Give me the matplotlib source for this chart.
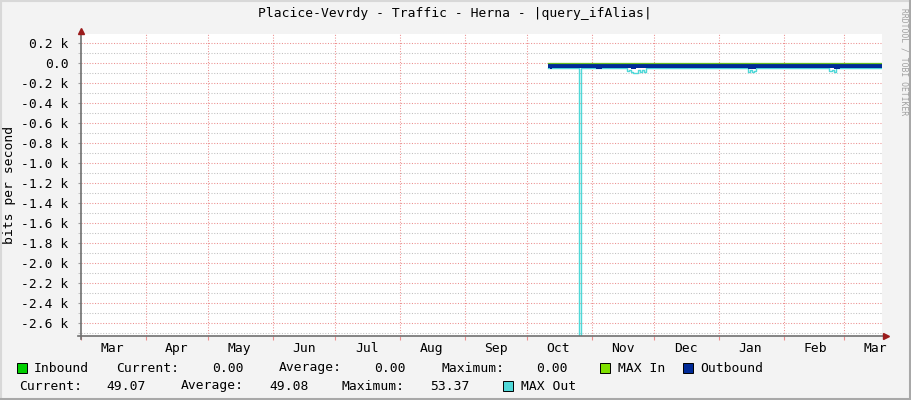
import numpy as np
import pandas as pd
import matplotlib
matplotlib.use("Agg")
import matplotlib.pyplot as plt
import matplotlib.dates as mdates
from matplotlib.patches import Rectangle
from matplotlib.lines import Line2D

plt.rcParams['font.family'] = ['DejaVu Sans Mono']

# Data (bits per second); outbound is drawn below zero
title = "Placice-Vevrdy - Traffic - Herna - |query_ifAlias|"
in_dates = ["2023-10-11", "2024-03-19"]
in_vals = [0, 0]

out_dates = ["2023-10-11", "2023-10-12", "2023-10-13", "2023-11-03", "2023-11-06",
             "2023-11-14", "2023-11-15", "2023-11-20", "2023-11-22", "2023-12-12",
             "2023-12-13", "2023-12-22", "2023-12-24", "2024-01-15", "2024-01-19",
             "2024-01-29", "2024-01-30", "2024-02-09", "2024-02-10", "2024-02-18",
             "2024-02-19", "2024-02-20", "2024-02-21", "2024-02-25", "2024-02-28",
             "2024-03-17", "2024-03-18", "2024-03-19"]
out_vals = [49, 56, 49, 55, 49,
            54, 49, 55, 49, 53,
            49, 54, 49, 56, 49,
            53, 49, 54, 49, 54,
            49, 54, 49, 55, 49,
            53, 49, 49]

maxout_dates = ["2023-10-11", "2023-10-26", "2023-10-27", "2023-11-18", "2023-11-19",
                "2023-11-20", "2023-11-21", "2023-11-23", "2023-11-24", "2023-11-25",
                "2023-11-26", "2023-11-27", "2024-01-15", "2024-01-16", "2024-01-17",
                "2024-01-18", "2024-01-19", "2024-02-23", "2024-02-24", "2024-02-25",
                "2024-02-26", "2024-03-19"]
maxout_vals = [53, 2900, 53, 75, 68,
               90, 100, 72, 88, 70,
               85, 53, 85, 70, 88,
               75, 53, 82, 68, 85,
               53, 53]

legend_row1 = ["Inbound", "Current:", "0.00", "Average:", "0.00", "Maximum:", "0.00"]
legend_row2 = ["Current:", "49.07", "Average:", "49.08", "Maximum:", "53.37"]

c_in = "#00CF00"
c_maxin = "#7FE000"
c_out = "#002A97"
c_maxout = "#50D8D8"
c_major = "#EC8E8E"
c_minor = "#C0C0C0"
c_bg = "#F3F3F3"

W, H = 911, 400
fig = plt.figure(figsize=(W / 100, H / 100), dpi=100, facecolor=c_bg)


def fx(x):
    return x / W


def fy(y):
    return 1 - y / H


L, R, T, B = 81, 882, 34, 336
ax = fig.add_axes([fx(L), fy(B), fx(R - L), (B - T) / H])
ax.set_facecolor("white")

in_d = pd.to_datetime(in_dates)
out_d = pd.to_datetime(out_dates)
mo_d = pd.to_datetime(maxout_dates)

ax.step(mo_d, -np.array(maxout_vals), where="post", color=c_maxout, lw=1.0, zorder=2)
ax.fill_between(out_d, 0, -np.array(out_vals), step="post", color=c_out, lw=0, zorder=3)
ax.step(in_d, in_vals, where="post", color=c_in, lw=0.8, zorder=4)
ax.step(in_d, in_vals, where="post", color="#6CC020", lw=0.8, zorder=5)

ax.set_xlim(pd.Timestamp("2023-03-01"), pd.Timestamp("2024-03-19 05:00"))
ax.set_ylim(-2730, 290)

# y axis
ax.set_yticks(np.arange(-2600, 201, 200))
ax.set_yticks(np.arange(-2700, 291, 100), minor=True)
ax.set_yticklabels(["0.0" if v == 0 else f"{v / 1000:.1f} k" for v in np.arange(-2600, 201, 200)])

# x axis
ax.xaxis.set_major_locator(mdates.MonthLocator())
ax.xaxis.set_major_formatter(plt.NullFormatter())
ax.xaxis.set_minor_locator(mdates.MonthLocator(bymonthday=16))
ax.xaxis.set_minor_formatter(mdates.DateFormatter("%b"))

ax.grid(False)
for v in np.arange(-2700, 291, 100):
    col = c_major if v % 200 == 0 else c_minor
    ax.axhline(v, color=col, lw=0.75, ls=(0, (1, 1.6)), zorder=1)
for d in pd.date_range("2023-04-01", "2024-03-01", freq="MS"):
    ax.axvline(d, color=c_major, lw=0.75, ls=(0, (1, 1.6)), zorder=1)

ax.tick_params(axis="y", which="major", length=2, width=0.8, color="#A0A0A0",
               labelsize=9.4, pad=7, labelcolor="black")
ax.tick_params(axis="y", which="minor", length=2, width=0.6, color="#C0C0C0")
ax.tick_params(axis="x", which="major", length=3, width=0.8, color=c_major)
ax.tick_params(axis="x", which="minor", length=0, labelsize=9.4, pad=4, labelcolor="black")

for s in ax.spines.values():
    s.set_visible(False)

# axis lines and arrows
fig.add_artist(Line2D([fx(L), fx(L)], [fy(B + 3), fy(T - 2)], color="#707070", lw=1.2))
fig.add_artist(Line2D([fx(L - 3), fx(R + 2)], [fy(B), fy(B)], color="#707070", lw=1.2))
fig.add_artist(Line2D([fx(L)], [fy(T - 3)], marker="^", ms=5, color="#9B1C1C", lw=0))
fig.add_artist(Line2D([fx(R + 4)], [fy(B)], marker=">", ms=5, color="#9B1C1C", lw=0))

# titles
fig.text(fx(455), fy(14), title, ha="center", va="center", fontsize=9.4)
fig.text(fx(10), fy(185), "bits per second", ha="center", va="center",
         rotation=90, fontsize=9.4)
fig.text(fx(904), fy(62), "RRDTOOL / TOBI OETIKER", ha="center", va="center",
         rotation=270, fontsize=5.8, color="#A0A0A0")

# legend


def square(x, y, col):
    fig.add_artist(Rectangle((fx(x), fy(y + 5)), fx(10), 10 / H, facecolor=col,
                             edgecolor="black", lw=0.7))


def label(x, y, s):
    fig.text(fx(x), fy(y), s, ha="left", va="center", fontsize=9.4)


y1, y2 = 368, 386
square(17, y1, c_in)
label(34, y1, "Inbound")
for x, s in zip([116, 212, 279, 374, 441, 536], legend_row1[1:]):
    label(x, y1, s)
square(600, y1, c_maxin)
label(618, y1, "MAX In")
square(683, y1, c_out)
label(700, y1, "Outbound")
for x, s in zip([19, 106, 181, 269, 342, 430], legend_row2):
    label(x, y2, s)
square(503, y2, c_maxout)
label(521, y2, "MAX Out")

# frame edges
fig.add_artist(Line2D([0, 1], [fy(1), fy(1)], color="#D8D8D8", lw=1.5))
fig.add_artist(Line2D([fx(1), fx(1)], [0, 1], color="#D8D8D8", lw=1.5))
fig.add_artist(Line2D([0, 1], [fy(398.5), fy(398.5)], color="#A8A8A8", lw=2.2))
fig.add_artist(Line2D([fx(909.5), fx(909.5)], [0, 1], color="#A8A8A8", lw=2.2))

fig.savefig("out.png", dpi=100, facecolor=c_bg)
